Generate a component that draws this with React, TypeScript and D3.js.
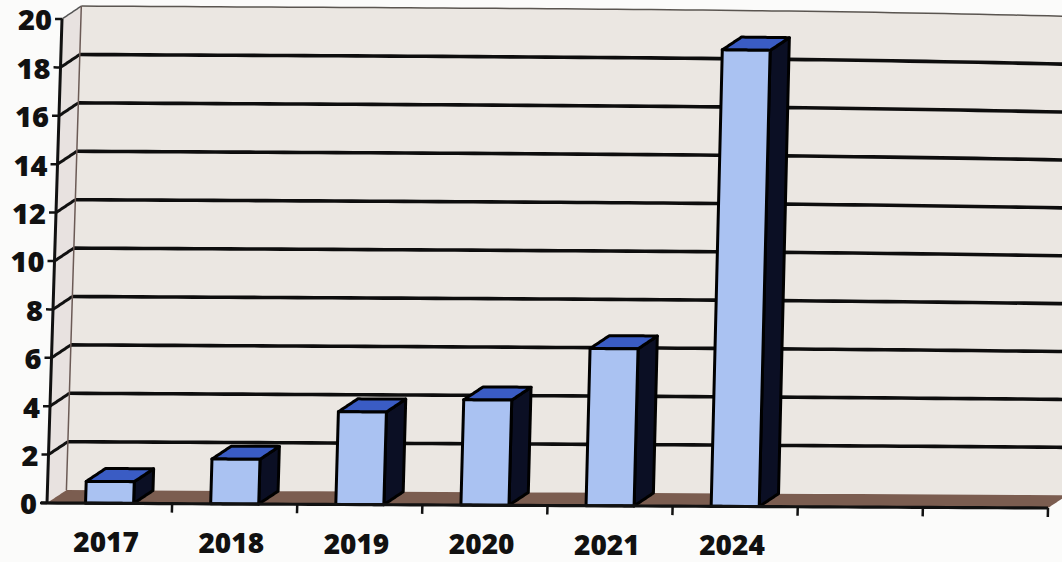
import React from "react";
import * as d3 from "d3";

const categories: string[] = ["2017", "2018", "2019", "2020", "2021", "2024", "", ""];
const values: (number | null)[] = [0.9, 1.85, 3.83, 4.35, 6.5, 18.9, null, null];
const yTicks: number[] = [0, 2, 4, 6, 8, 10, 12, 14, 16, 18, 20];

const W = 1062;
const H = 562;
const X0 = 47;
const X1 = 1048;
const Y0 = 503;
const Y1 = 19;
const DX = 19;
const DY = -13;

const x = d3.scaleBand<number>().domain(d3.range(categories.length)).range([X0, X1]).paddingInner(0).paddingOuter(0);
const y = d3.scaleLinear().domain([0, 20]).range([Y0, Y1]);

// photo distortion: slight lean and page curvature
function warp(px: number, py: number): [number, number] {
  const u = (px - X0) / (X1 - X0);
  const v = (Y0 - py) / (Y0 - Y1);
  const shear = 0.031 - 0.01 * u;
  const sx = px + shear * (Y0 - py);
  const sy = py + 5 * u + 5 * Math.max(0, v) * Math.pow(Math.max(0, u), 4);
  return [sx, sy];
}

function wpath(pts: [number, number][], closed = false, n = 24): string {
  const out: [number, number][] = [];
  const segs = closed ? pts.length : pts.length - 1;
  for (let i = 0; i < segs; i++) {
    const a = pts[i];
    const b = pts[(i + 1) % pts.length];
    for (let k = 0; k < n; k++) {
      const t = k / n;
      out.push(warp(a[0] + (b[0] - a[0]) * t, a[1] + (b[1] - a[1]) * t));
    }
  }
  if (!closed) out.push(warp(pts[pts.length - 1][0], pts[pts.length - 1][1]));
  const line = d3.line();
  return line(out) + (closed ? "Z" : "");
}

export default function App() {
  const bw = x.bandwidth();
  const barW = bw * 0.384;
  const xRight = X1 + DX + 40;

  const wall = wpath(
    [
      [X0 + DX, y(0) + DY],
      [xRight, y(0) + DY],
      [xRight, y(20) + DY],
      [X0 + DX, y(20) + DY],
    ],
    true
  );
  const side = wpath(
    [
      [X0, y(0)],
      [X0 + DX, y(0) + DY],
      [X0 + DX, y(20) + DY],
      [X0, y(20)],
    ],
    true
  );
  const floor = wpath(
    [
      [X0, y(0)],
      [X1, y(0)],
      [X1 + DX, y(0) + DY],
      [X0 + DX, y(0) + DY],
    ],
    true
  );

  return (
    <svg width={W} height={H} style={{ position: "absolute", left: 0, top: 0, background: "#fbfbfa" }}>
      <rect x={0} y={0} width={W} height={H} fill="#fbfbfa" />
      <path d={wall} fill="#ebe7e2" />
      <path d={side} fill="#e8e2e0" />
      <path d={floor} fill="#7b5d50" />
      {/* gridlines */}
      {yTicks
        .filter((t) => t > 0)
        .map((t) => (
          <g key={"g" + t}>
            <path
              d={wpath([
                [X0, y(t)],
                [X0 + DX, y(t) + DY],
              ])}
              fill="none"
              stroke={t === 20 ? "#555" : "#111"}
              strokeWidth={t === 20 ? 1.5 : 3}
            />
            <path
              d={wpath([
                [X0 + DX, y(t) + DY],
                [xRight, y(t) + DY],
              ], false, 60)}
              fill="none"
              stroke={t === 20 ? "#5a5550" : "#0d0d0d"}
              strokeWidth={t === 20 ? 1.5 : 3.6}
            />
          </g>
        ))}
      {/* back wall left edge */}
      <path
        d={wpath([
          [X0 + DX, y(0) + DY],
          [X0 + DX, y(20) + DY],
        ])}
        fill="none"
        stroke="#6b5a55"
        strokeWidth={1.5}
      />
      {/* bars */}
      {values.map((v, i) => {
        if (v == null) return null;
        const bx = (x(i) as number) + (bw - barW) / 2;
        const top = y(v);
        const bottom = y(0);
        const front = wpath(
          [
            [bx, bottom],
            [bx + barW, bottom],
            [bx + barW, top],
            [bx, top],
          ],
          true
        );
        const topFace = wpath(
          [
            [bx, top],
            [bx + barW, top],
            [bx + barW + DX, top + DY],
            [bx + DX, top + DY],
          ],
          true
        );
        const sideFace = wpath(
          [
            [bx + barW, bottom],
            [bx + barW + DX, bottom + DY],
            [bx + barW + DX, top + DY],
            [bx + barW, top],
          ],
          true
        );
        return (
          <g key={"b" + i} stroke="#000" strokeWidth={3} strokeLinejoin="round">
            <path d={sideFace} fill="#0b0f24" />
            <path d={topFace} fill="#3a5cc4" />
            <path d={front} fill="#aac2f2" />
          </g>
        );
      })}
      {/* axes */}
      <path
        d={wpath([
          [X0, y(0)],
          [X0, y(20)],
        ])}
        fill="none"
        stroke="#111"
        strokeWidth={3}
      />
      <path
        d={wpath([
          [X0 - 6, y(0)],
          [X1, y(0)],
        ], false, 60)}
        fill="none"
        stroke="#111"
        strokeWidth={3.2}
      />
      {yTicks.map((t) => (
        <path
          key={"yt" + t}
          d={wpath([
            [X0 - 7, y(t)],
            [X0, y(t)],
          ], false, 2)}
          fill="none"
          stroke="#111"
          strokeWidth={2.5}
        />
      ))}
      {categories.map((c, i) => {
        const bxr = (x(i) as number) + bw;
        return (
          <path
            key={"xt" + i}
            d={wpath([
              [bxr, y(0)],
              [bxr, y(0) + 9],
            ], false, 2)}
            fill="none"
            stroke="#111"
            strokeWidth={2.5}
          />
        );
      })}
      {yTicks.map((t) => {
        const [lx, ly] = warp(X0 - 10, y(t));
        return (
          <text
            key={"yl" + t}
            x={lx}
            y={ly}
            textAnchor="end"
            dominantBaseline="central"
            fontFamily="'Open Sans', sans-serif"
            fontWeight={800}
            fontSize={29}
            fill="#111"
          >
            {t}
          </text>
        );
      })}
      {categories.map((c, i) => {
        const [lx, ly] = warp((x(i) as number) + bw / 2 - 2, y(0) + 49);
        return (
          <text
            key={"xl" + i}
            x={lx}
            y={ly}
            textAnchor="middle"
            fontFamily="'Open Sans', sans-serif"
            fontWeight={800}
            fontSize={28}
            fill="#111"
          >
            {c}
          </text>
        );
      })}
    </svg>
  );
}
